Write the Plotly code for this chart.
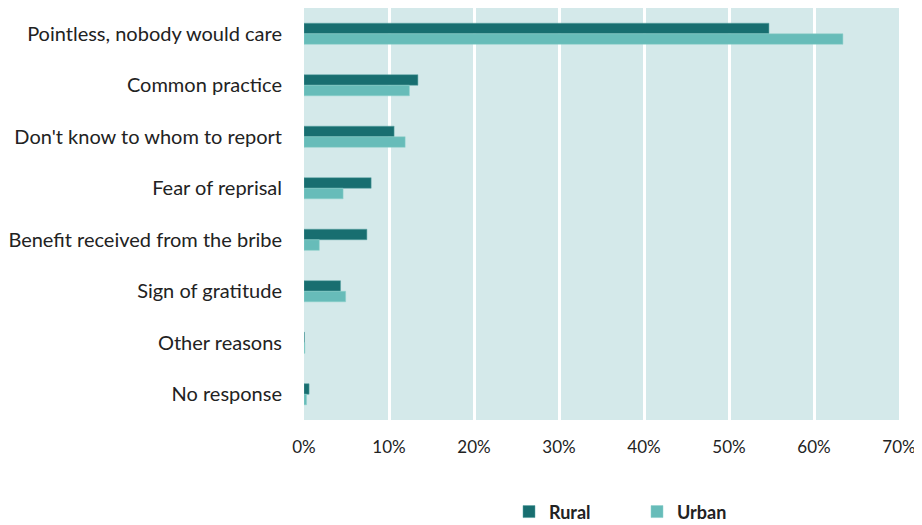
import plotly.graph_objects as go

categories = ["Pointless, nobody would care", "Common practice", "Don't know to whom to report",
              "Fear of reprisal", "Benefit received from the bribe", "Sign of gratitude",
              "Other reasons", "No response"]
rural = [54.7, 13.4, 10.6, 7.9, 7.4, 4.3, 0.05, 0.6]
urban = [63.4, 12.4, 11.9, 4.6, 1.8, 4.9, 0.1, 0.3]
tick_vals = [0, 10, 20, 30, 40, 50, 60, 70]
tick_text = ["0%", "10%", "20%", "30%", "40%", "50%", "60%", "70%"]

FONT = "Lato, 'Open Sans', sans-serif"

fig = go.Figure()
fig.add_trace(go.Bar(y=categories, x=rural, name="Rural", orientation="h",
                     marker=dict(color="#186e70", line=dict(color="#5aa5a5", width=0.5))))
fig.add_trace(go.Bar(y=categories, x=urban, name="Urban", orientation="h",
                     marker=dict(color="#67bcb9", line=dict(color="#8fd0cc", width=0.5))))

# page body has an 8px margin, so the figure is sized/offset to compensate
fig.update_layout(
    width=914, height=517,
    margin=dict(l=296, r=23, t=0, b=105, autoexpand=False),
    paper_bgcolor="white", plot_bgcolor="#d4e9ea",
    barmode="group", bargap=0.59, bargroupgap=0,
    font=dict(family=FONT, size=17, color="#222222"),
    showlegend=True,
    legend=dict(orientation="h", x=(501 - 296) / 595, xanchor="left", y=-0.223, yanchor="middle",
                font=dict(size=18, color="#222222", family=FONT, weight="bold"),
                entrywidth=83, entrywidthmode="pixels", itemwidth=30),
)
fig.update_xaxes(range=[0, 70], tickvals=tick_vals, ticktext=tick_text,
                 showgrid=True, gridcolor="white", gridwidth=2.5, zeroline=False,
                 showline=False, ticks="", ticklabelstandoff=15, automargin=False)
fig.update_yaxes(autorange="reversed", showgrid=False, showline=False, ticks="",
                 ticklabelstandoff=21, automargin=False, tickfont=dict(size=20))

fig.write_html("out.html")
